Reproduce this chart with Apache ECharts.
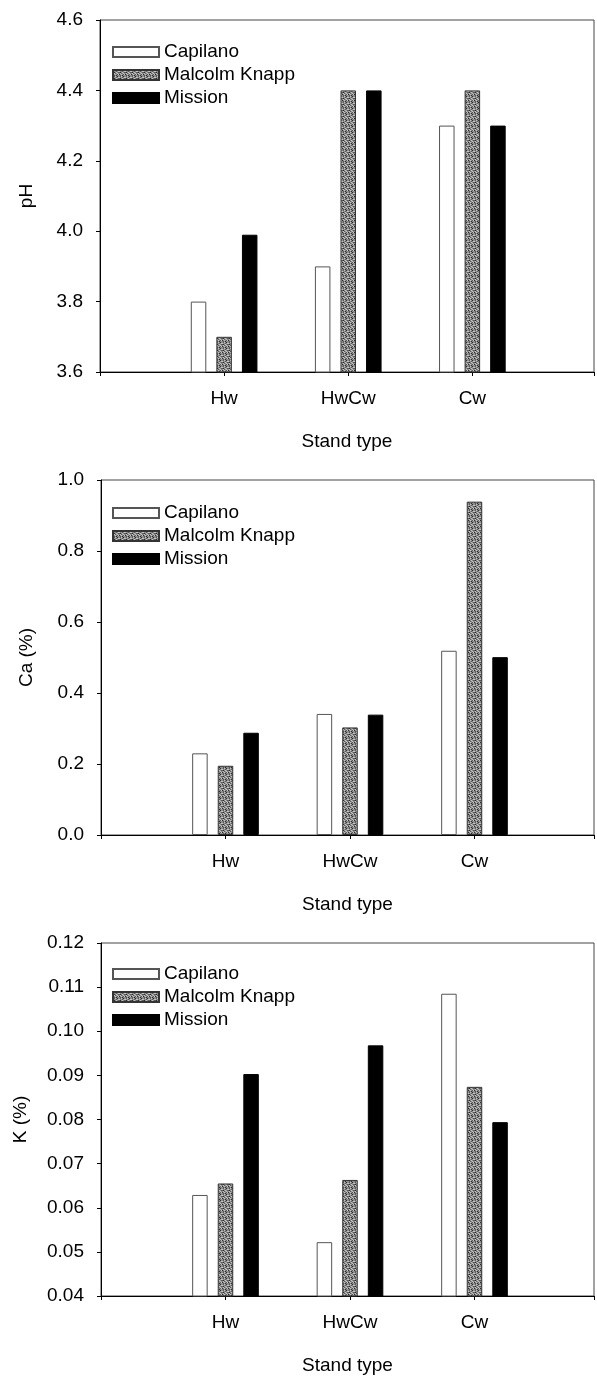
<!DOCTYPE html>
<html>
<head>
<meta charset="utf-8">
<script src="https://cdn.jsdelivr.net/npm/echarts@6/dist/echarts.min.js"></script>
<style>
  html, body { margin: 0; padding: 0; background: #fff; }
  #chart { width: 597px; height: 1376px; }
</style>
</head>
<body>
<div id="chart"></div>
<script>
// ---- data ----
const categories = ['Hw', 'HwCw', 'Cw'];
const seriesNames = ['Capilano', 'Malcolm Knapp', 'Mission'];

const phCapilano = [3.80, 3.90, 4.30];
const phMalcolm  = [3.70, 4.40, 4.40];
const phMission  = [3.99, 4.40, 4.30];

const caCapilano = [0.230, 0.341, 0.519];
const caMalcolm  = [0.195, 0.303, 0.939];
const caMission  = [0.288, 0.339, 0.501];

const kCapilano = [0.0629, 0.0522, 0.1085];
const kMalcolm  = [0.0655, 0.0663, 0.0874];
const kMission  = [0.0903, 0.0968, 0.0794];

// y axis ranges: [min, max, interval, decimals]
const phAxis = [3.6, 4.6, 0.2, 1];
const caAxis = [0.0, 1.0, 0.2, 1];
const kAxis  = [0.04, 0.12, 0.01, 2];

const yNames = ['pH', 'Ca (%)', 'K (%)'];
const xName = 'Stand type';

// ---- styling ----
const FONT = '"Liberation Sans", Arial, Helvetica, sans-serif';

function makePattern() {
  const c = document.createElement('canvas');
  c.width = 6; c.height = 6;
  const ctx = c.getContext('2d');
  const shades = ['#5a5a5a', '#8c8c8c', '#c4c4c4', '#2a2a2a'];
  const map = [
    [1,0,2,1,3,1],
    [2,1,1,0,1,2],
    [0,3,1,2,1,0],
    [1,2,0,1,2,1],
    [3,1,2,1,0,2],
    [1,0,1,3,1,1]
  ];
  for (let y = 0; y < 6; y++) for (let x = 0; x < 6; x++) {
    ctx.fillStyle = shades[map[y][x]];
    ctx.fillRect(x, y, 1, 1);
  }
  return c;
}
const pattern = { image: makePattern(), repeat: 'repeat' };

const seriesStyles = [
  { color: '#ffffff', borderColor: '#555', borderWidth: 1 },
  { color: pattern, borderColor: '#333', borderWidth: 1 },
  { color: '#000000', borderColor: '#000', borderWidth: 1 }
];

const panels = [
  { data: [phCapilano, phMalcolm, phMission], axis: phAxis, name: yNames[0],
    left: 100, top: 20, width: 497, height: 352, xmax: 3.98, nameGap: 64, legendTop: 37.5 },
  { data: [caCapilano, caMalcolm, caMission], axis: caAxis, name: yNames[1],
    left: 101, top: 480, width: 496, height: 355, xmax: 3.96, nameGap: 65, legendTop: 498.5 },
  { data: [kCapilano, kMalcolm, kMission], axis: kAxis, name: yNames[2],
    left: 101, top: 943, width: 496, height: 353, xmax: 3.96, nameGap: 71, legendTop: 959.5 }
];

const grid = [], xAxis = [], yAxis = [], series = [], legend = [];

panels.forEach((p, i) => {
  grid.push({
    left: p.left, top: p.top, width: p.width, height: p.height,
    show: true, borderColor: '#444', borderWidth: 1, backgroundColor: 'transparent'
  });
  xAxis.push({
    type: 'value', gridIndex: i, min: 0, max: p.xmax, interval: 1,
    name: xName, nameLocation: 'middle', nameGap: 60,
    nameTextStyle: { fontSize: 19, color: '#000', fontFamily: FONT },
    axisLine: { show: true, onZero: false, lineStyle: { color: '#000', width: 1 } },
    axisTick: { show: true, length: 4, inside: false, lineStyle: { color: '#000' } },
    axisLabel: {
      margin: 17, fontSize: 19, color: '#000', fontFamily: FONT,
      formatter: v => (Number.isInteger(v) && categories[v - 1]) ? categories[v - 1] : ''
    },
    splitLine: { show: false }
  });
  yAxis.push({
    type: 'value', gridIndex: i, min: p.axis[0], max: p.axis[1], interval: p.axis[2],
    name: p.name, nameLocation: 'middle', nameGap: p.nameGap,
    nameTextStyle: { fontSize: 19, color: '#000', fontFamily: FONT },
    axisLine: { show: true, lineStyle: { color: '#000', width: 1 } },
    axisTick: { show: true, length: 4, inside: false, lineStyle: { color: '#000' } },
    axisLabel: {
      margin: 17, fontSize: 19, color: '#000', fontFamily: FONT,
      formatter: v => Number(v).toFixed(p.axis[3])
    },
    splitLine: { show: false }
  });
  p.data.forEach((vals, j) => {
    series.push({
      type: 'bar', name: seriesNames[j], xAxisIndex: i, yAxisIndex: i,
      barWidth: 15.5, barGap: '65%',
      itemStyle: seriesStyles[j],
      emphasis: { disabled: true },
      data: vals.map((v, k) => [k + 1, v])
    });
  });
  legend.push({
    orient: 'vertical', left: 107, top: p.legendTop,
    itemWidth: 46, itemHeight: 10, itemGap: 4, icon: 'rect',
    selectedMode: false,
    textStyle: { fontSize: 19, lineHeight: 19, color: '#000', fontFamily: FONT },
    data: seriesNames
  });
});

const chart = echarts.init(document.getElementById('chart'), null, { renderer: 'canvas' });
chart.setOption({
  animation: false,
  backgroundColor: '#ffffff',
  grid, xAxis, yAxis, series, legend
});
</script>
</body>
</html>
